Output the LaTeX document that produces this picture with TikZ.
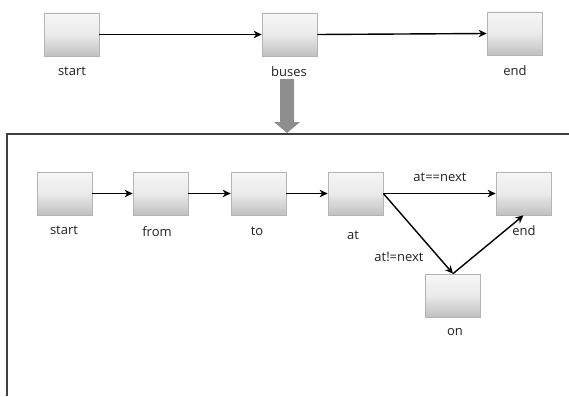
\documentclass[tikz,border=0pt]{standalone}
\usepackage{fontspec}
\setmainfont{Open Sans}
\usetikzlibrary{arrows.meta}
\definecolor{boxedge}{HTML}{B4B4B4}
\definecolor{boxtop}{HTML}{F6F6F6}
\definecolor{boxmid}{HTML}{EAEAEA}
\definecolor{boxbot}{HTML}{C0C0C0}
\definecolor{txt}{HTML}{222222}
\definecolor{bigarrow}{HTML}{8E8E8E}
\tikzset{
  statebox/.style={draw=boxedge, line width=0.7pt, minimum width=55pt, minimum height=43pt,
    inner sep=0pt, top color=boxtop, bottom color=boxbot, middle color=boxmid},
  lbl/.style={font=\fontsize{13}{15}\selectfont, text=txt, inner sep=0pt},
  flow/.style={draw=black, line width=1.4pt, -{Stealth[length=8pt,width=7.5pt,inset=2.5pt]}},
}
\begin{document}
\begin{tikzpicture}[x=1pt, y=-1pt]
\useasboundingbox (0,0) rectangle (569,396);

% upper overview
\node[statebox] (tstart) at (71.5,34.5) {};
\node[statebox] (tbuses) at (289.5,34.5) {};
\node[statebox] (tend)   at (514.5,33.5) {};
\node[lbl] (tstartl) at (72,71) {start};
\node[lbl] (tbusesl) at (289,72) {buses};
\node[lbl] (tendl)   at (515,71) {end};
\draw[flow] (tstart.east) -- (tbuses.west);
\draw[flow] (tbuses.east) -- (tend.west);

% block arrow into the detail panel
\fill[bigarrow] (280,79) -- (294,79) -- (294,122) -- (300,122) -- (287,133)
  -- (274,122) -- (280,122) -- cycle;

% detail panel frame (open to the right and bottom)
\coordinate (fr) at (569,134);
\coordinate (fc) at (7,134);
\coordinate (fb) at (7,396);
\draw[black!75, line width=1.1pt] (fr) -- (fc) -- (fb);

% detail states
\node[statebox] (dstart) at (64.5,193.5) {};
\node[statebox] (dfrom)  at (160.5,193.5) {};
\node[statebox] (dto)    at (258.5,193.5) {};
\node[statebox] (dat)    at (355.5,193.5) {};
\node[statebox] (dend)   at (523.5,193.5) {};
\node[statebox] (don)    at (453,295.5) {};

\node[lbl] (dstartl) at (64,230) {start};
\node[lbl] (dfroml)  at (157,232) {from};
\node[lbl] (dtol)    at (257,231) {to};
\node[lbl] (datl)    at (353,235) {at};
\node[lbl] (dendl)   at (524,231) {end};
\node[lbl] (donl)    at (455,332) {on};
\node[lbl] (eqlbl)   at (440,177) {at==next};
\node[lbl] (nelbl)   at (399,257) {at!=next};

\draw[flow] (dstart.east) -- (dfrom.west);
\draw[flow] (dfrom.east) -- (dto.west);
\draw[flow] (dto.east) -- (dat.west);
\draw[flow] (dat.east) -- (dend.west);
\draw[flow] (dat.east) -- (don.north);
\draw[flow] (don.north) -- (dend.south);
\end{tikzpicture}
\end{document}
